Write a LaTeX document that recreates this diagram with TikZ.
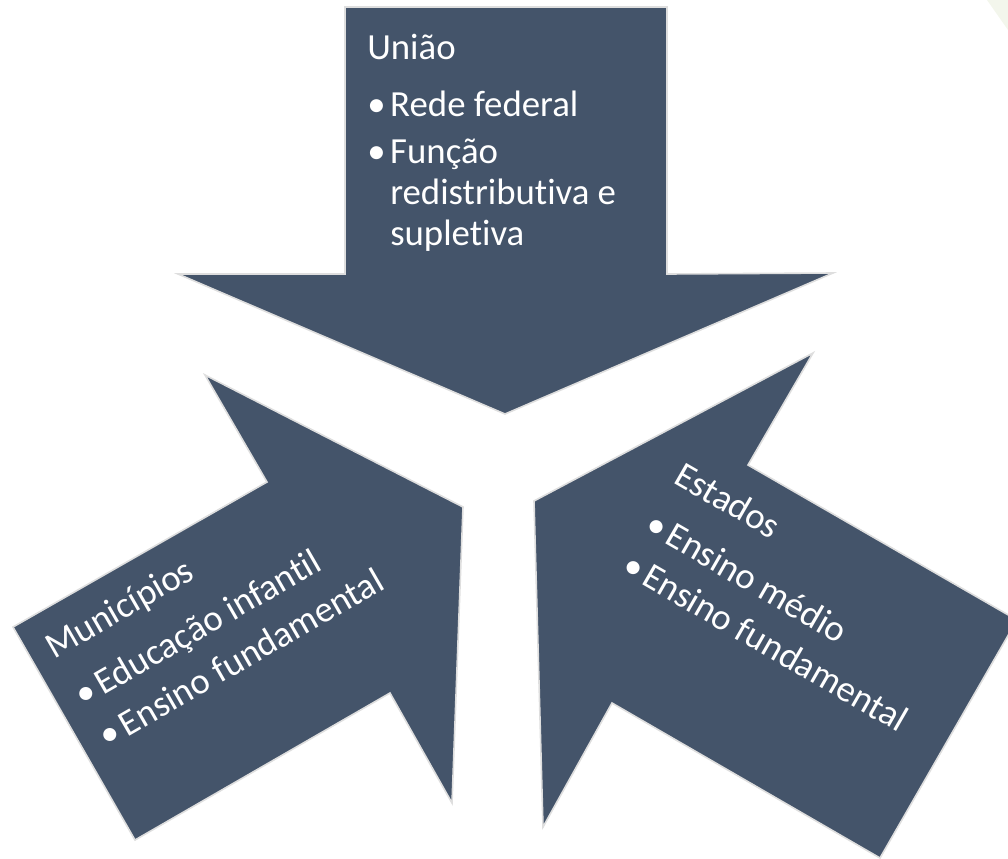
\documentclass[tikz,border=0pt]{standalone}
\usepackage{fontspec}
\setmainfont{Carlito}[Ligatures=NoCommon]
\definecolor{arrowfill}{HTML}{44546A}
\definecolor{arrowedge}{HTML}{DEDEDE}
\definecolor{paleleaf}{RGB}{243,246,236}
\newcommand{\blt}{\makebox[17.25pt][l]{•}}
\newcommand{\indt}{\hspace*{17.25pt}}
\begin{document}
\begin{tikzpicture}[x=0.75pt,y=-0.75pt,
  arrowshape/.style={fill=arrowfill, draw=arrowedge, line width=1.2pt, line join=miter},
  lbl/.style={text=white, font=\fontsize{27.6}{30.75}\selectfont, inner sep=0pt, anchor=base west}]
\useasboundingbox (0,0) rectangle (1008,858);
\clip (0,0) rectangle (1008,858);
\fill[paleleaf] (987,0) -- (1008,0) -- (1008,30) -- cycle;
% Uniao arrow (pointing down)
\draw[arrowshape] (345,7) -- (667,7) -- (667,274) -- (833,273) -- (505,414) -- (178,274) -- (345,274) -- cycle;
% Municipios arrow (pointing up-right)
\draw[arrowshape] (13,627) -- (267,482) -- (205,375) -- (463,507) -- (452,803) -- (390,693) -- (135,840) -- cycle;
% Estados arrow (pointing up-left)
\draw[arrowshape] (534,501) -- (813,353) -- (748,465) -- (1017,620) -- (880,858) -- (612,703) -- (543,827) -- cycle;
% Uniao text
\node[lbl] (uniao) at (367,59) {União};
\node[lbl] (rede) at (367,116) {\blt Rede federal};
\node[lbl] (funcao) at (367,163) {\blt Função};
\node[lbl] (redis) at (367,204) {\indt redistributiva e};
\node[lbl] (suple) at (367,245) {\indt supletiva};
% Municipios text
\begin{scope}[shift={(54,660)}, rotate=30]
\node[lbl, rotate=30] (munic) at (0,0) {Municípios};
\node[lbl, rotate=30] (edinf) at (2,56) {\blt Educação infantil};
\node[lbl, rotate=30] (ensfm) at (2,104) {\blt Ensino fundamental};
\end{scope}
% Estados text
\begin{scope}[shift={(672,482)}, rotate=-30]
\node[lbl, rotate=-30] (estados) at (0,0) {Estados};
\node[lbl, rotate=-30] (ensmed) at (0,57) {\blt Ensino médio};
\node[lbl, rotate=-30] (ensfe) at (0,104) {\blt Ensino fundamental};
\end{scope}
\end{tikzpicture}
\end{document}
